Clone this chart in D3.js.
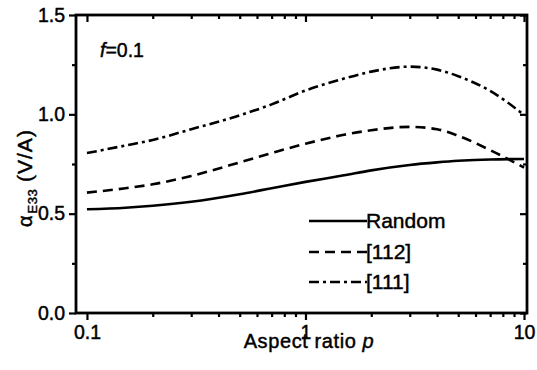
<!DOCTYPE html>
<html><head><meta charset="utf-8">
<script src="https://cdn.jsdelivr.net/npm/d3@7"></script>
<style>body{margin:0;background:#fff}text{font-family:"Liberation Sans",Arial,sans-serif;fill:#000;stroke:#000;stroke-width:0.45px}</style>
</head><body><svg id="c" width="537" height="370"></svg>
<script>
const pValues = [0.1, 0.15, 0.2, 0.3, 0.5, 0.7, 1, 1.5, 2, 3, 4, 5, 7, 10];
const randomVals = [0.522, 0.530, 0.540, 0.560, 0.598, 0.628, 0.660, 0.693, 0.718, 0.745, 0.758, 0.766, 0.773, 0.775];
const v112Vals   = [0.606, 0.628, 0.648, 0.690, 0.758, 0.805, 0.852, 0.897, 0.920, 0.937, 0.925, 0.892, 0.820, 0.732];
const v111Vals   = [0.805, 0.843, 0.871, 0.925, 0.995, 1.050, 1.120, 1.180, 1.215, 1.240, 1.225, 1.192, 1.118, 0.997];
const seriesNames = ["Random", "[112]", "[111]"];
const xTickLabels = [0.1, 1, 10];
const yTickLabels = [0.0, 0.5, 1.0, 1.5];

const svg = d3.select("#c");
const L = 76, R = 527, T = 15, B = 313;
const x = d3.scaleLog().domain([0.0891, 10.32]).range([L, R]);
const y = d3.scaleLinear().domain([0, 1.5]).range([B, T]);

const series = [
  {name: seriesNames[0], vals: randomVals, dash: null},
  {name: seriesNames[1], vals: v112Vals, dash: "10,6"},
  {name: seriesNames[2], vals: v111Vals, dash: "10,4,3,4"}
];
const line = d3.line().x(d => x(d[0])).y(d => y(d[1])).curve(d3.curveMonotoneX);
series.forEach(s => {
  svg.append("path").datum(pValues.map((p, i) => [p, s.vals[i]]))
    .attr("d", line).attr("fill", "none").attr("stroke", "#000")
    .attr("stroke-width", 2.6).attr("stroke-dasharray", s.dash);
});

const xMinor = [];
[0.1, 1].forEach(d => { for (let k = 2; k <= 9; k++) xMinor.push(d * k); });
const yMinor = [0.25, 0.75, 1.25];

const fmtY = d3.format(".1f");
const axB = d3.axisBottom(x).tickValues(xTickLabels).tickFormat(d3.format("")).tickSize(7).tickPadding(5);
const axBm = d3.axisBottom(x).tickValues(xMinor).tickFormat("").tickSize(4);
const axL = d3.axisLeft(y).tickValues(yTickLabels).tickFormat(fmtY).tickSize(7).tickPadding(4);
const axLm = d3.axisLeft(y).tickValues(yMinor).tickFormat("").tickSize(4);
const axT = d3.axisTop(x).tickValues(xTickLabels).tickFormat("").tickSizeInner(-7).tickSizeOuter(0);
const axTm = d3.axisTop(x).tickValues(xMinor).tickFormat("").tickSizeInner(-4).tickSizeOuter(0);
const axR = d3.axisRight(y).tickValues(yTickLabels).tickFormat("").tickSizeInner(-7).tickSizeOuter(0);
const axRm = d3.axisRight(y).tickValues(yMinor).tickFormat("").tickSizeInner(-4).tickSizeOuter(0);

function put(ax, tr) {
  const g = svg.append("g").attr("transform", tr).call(ax);
  g.selectAll("path.domain").remove();
  g.selectAll("line").attr("stroke", "#000").attr("stroke-width", 2.2);
  g.selectAll("text").style("font-size", "19.5px").attr("fill", "#000");
  return g;
}
put(axB, `translate(0,${B})`); put(axBm, `translate(0,${B})`);
put(axL, `translate(${L},0)`); put(axLm, `translate(${L},0)`);
put(axT, `translate(0,${T})`); put(axTm, `translate(0,${T})`);
put(axR, `translate(${R},0)`); put(axRm, `translate(${R},0)`);

svg.append("rect").attr("x", L).attr("y", T).attr("width", R - L).attr("height", B - T)
  .attr("fill", "none").attr("stroke", "#000").attr("stroke-width", 2.8);

// axis titles
const xt = svg.append("text").attr("x", 309).attr("y", 348).attr("text-anchor", "middle")
  .style("font-size", "20px").style("letter-spacing", "0.6px");
xt.append("tspan").text("Aspect ratio ");
xt.append("tspan").attr("font-style", "italic").text("p");

const yt = svg.append("text").attr("transform", "translate(32,227) rotate(-90)").attr("text-anchor", "start")
  .style("font-size", "20px");
yt.append("tspan").text("α");
yt.append("tspan").attr("dx", 2).attr("dy", 5).style("font-size", "13px").style("letter-spacing", "0.5px").text("E33");
yt.append("tspan").attr("dy", -5).style("font-size", "21px").style("letter-spacing", "1px").text(" (V/A)");

const ft = svg.append("text").attr("x", 100).attr("y", 57).style("font-size", "19.5px");
ft.append("tspan").attr("font-style", "italic").text("f");
ft.append("tspan").text("=0.1");

// legend
const legY = [221, 252, 282];
series.forEach((s, i) => {
  svg.append("line").attr("x1", 309).attr("x2", 367).attr("y1", legY[i]).attr("y2", legY[i])
    .attr("stroke", "#000").attr("stroke-width", 2.6).attr("stroke-dasharray", s.dash);
  svg.append("text").attr("x", 366).attr("y", legY[i] + 7).style("font-size", "21px").text(s.name);
});
</script></body></html>
